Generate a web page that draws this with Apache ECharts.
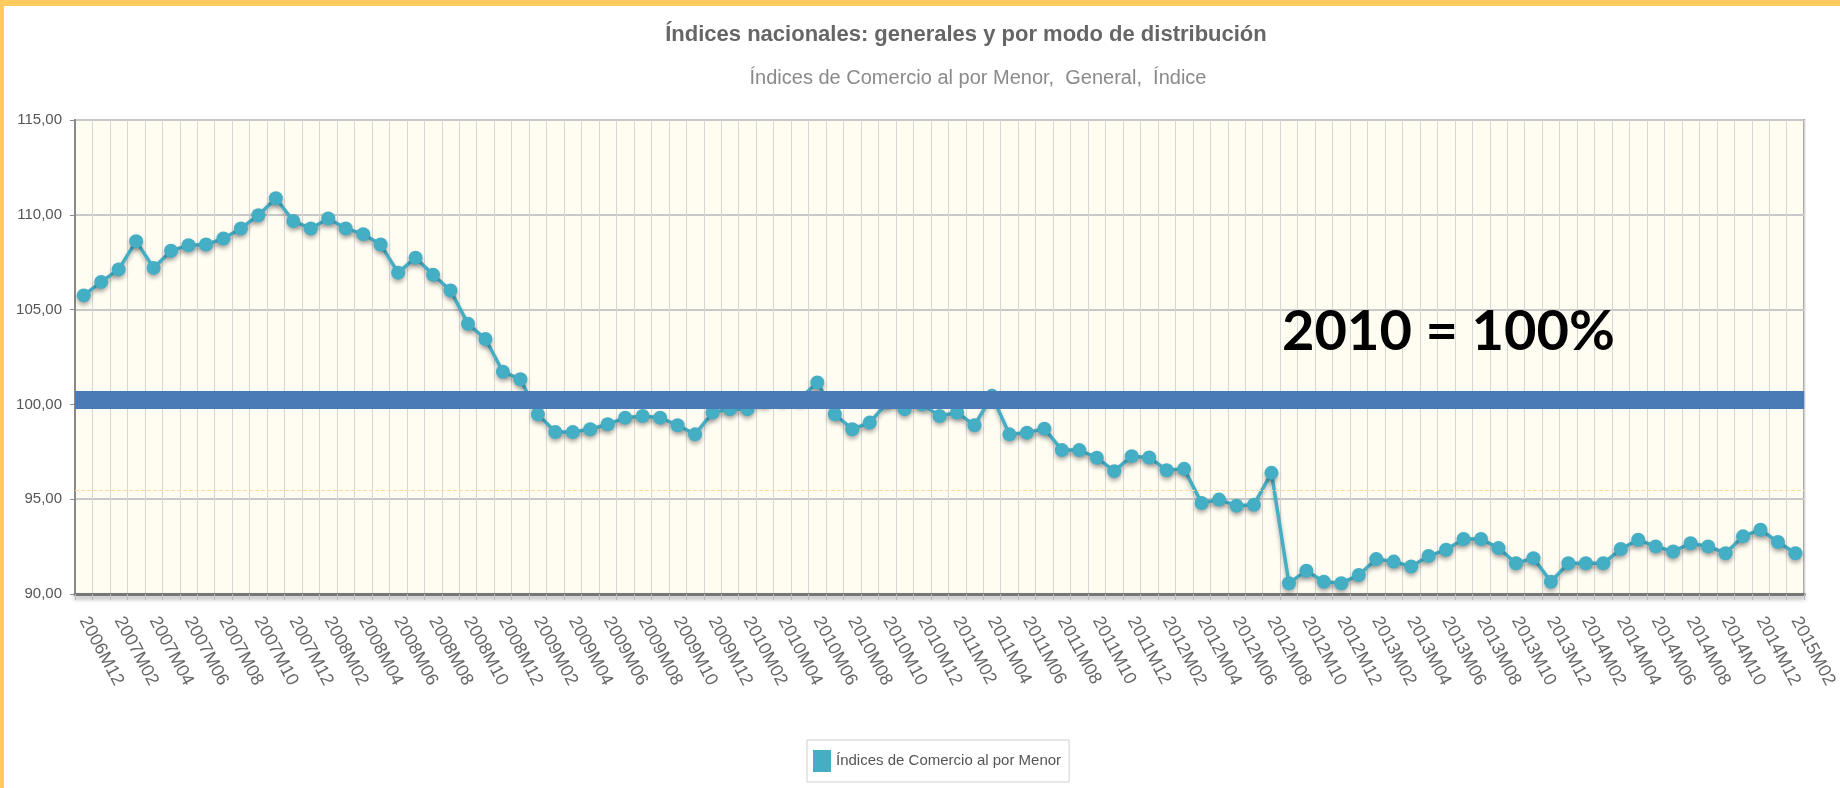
<!DOCTYPE html>
<html>
<head>
<meta charset="utf-8">
<script src="https://cdn.jsdelivr.net/npm/echarts@6/dist/echarts.min.js"></script>
<style>
  html, body { margin: 0; padding: 0; background: #fff; }
  #wrap { position: relative; width: 1840px; height: 788px; overflow: hidden; }
  #chart { width: 1840px; height: 788px; }
  .edge { position: absolute; background: #FFCB5E; }
</style>
</head>
<body>
<div id="wrap">
  <div id="chart"></div>
  <div class="edge" style="left:0;top:0;width:1840px;height:6px;"></div>
  <div class="edge" style="left:0;top:0;width:4px;height:788px;"></div>
</div>
<script>
// months 2006M12 .. 2015M02
const months = [
  '2006M12',
  '2007M01', '2007M02', '2007M03', '2007M04', '2007M05', '2007M06', '2007M07', '2007M08', '2007M09', '2007M10', '2007M11', '2007M12',
  '2008M01', '2008M02', '2008M03', '2008M04', '2008M05', '2008M06', '2008M07', '2008M08', '2008M09', '2008M10', '2008M11', '2008M12',
  '2009M01', '2009M02', '2009M03', '2009M04', '2009M05', '2009M06', '2009M07', '2009M08', '2009M09', '2009M10', '2009M11', '2009M12',
  '2010M01', '2010M02', '2010M03', '2010M04', '2010M05', '2010M06', '2010M07', '2010M08', '2010M09', '2010M10', '2010M11', '2010M12',
  '2011M01', '2011M02', '2011M03', '2011M04', '2011M05', '2011M06', '2011M07', '2011M08', '2011M09', '2011M10', '2011M11', '2011M12',
  '2012M01', '2012M02', '2012M03', '2012M04', '2012M05', '2012M06', '2012M07', '2012M08', '2012M09', '2012M10', '2012M11', '2012M12',
  '2013M01', '2013M02', '2013M03', '2013M04', '2013M05', '2013M06', '2013M07', '2013M08', '2013M09', '2013M10', '2013M11', '2013M12',
  '2014M01', '2014M02', '2014M03', '2014M04', '2014M05', '2014M06', '2014M07', '2014M08', '2014M09', '2014M10', '2014M11', '2014M12',
  '2015M01', '2015M02'
]

const indiceGeneral = [
  105.75,
  106.46, 107.12, 108.61, 107.2, 108.1, 108.4, 108.43, 108.75, 109.28, 109.98, 110.87, 109.67,
  109.28, 109.81, 109.28, 108.98, 108.43, 106.95, 107.74, 106.84, 106.01, 104.25, 103.45, 101.72,
  101.33, 99.48, 98.54, 98.54, 98.69, 98.95, 99.3, 99.39, 99.3, 98.9, 98.42, 99.57,
  99.75, 99.75, 100.2, 100.3, 100.3, 101.16, 99.48, 98.69, 99.04, 100.1, 99.75, 100.0,
  99.39, 99.57, 98.9, 100.45, 98.42, 98.51, 98.72, 97.59, 97.59, 97.19, 96.48, 97.27,
  97.2, 96.53, 96.6, 94.8, 94.98, 94.66, 94.71, 96.39, 90.57, 91.23, 90.65, 90.57,
  91.0, 91.84, 91.71, 91.45, 92.01, 92.33, 92.9, 92.9, 92.42, 91.62, 91.89, 90.65,
  91.62, 91.62, 91.62, 92.37, 92.86, 92.51, 92.24, 92.68, 92.51, 92.15, 93.04, 93.39,
  92.74, 92.15
]

const baseLevel = 100.27   // "2010 = 100%" band
const guideLevel = 95.46   // faint orange guide

const seriesName = 'Índices de Comercio al por Menor'
const teal = '#44AEC5'

const myChart = echarts.init(document.getElementById('chart'))

const option = {
  backgroundColor: '#fff',
  animation: false,
  title: [
    {
      text: 'Índices nacionales: generales y por modo de distribución',
      left: 961,
      top: 19,
      textAlign: 'center',
      textStyle: { fontFamily: 'Liberation Sans', fontSize: 22, fontWeight: 'bold', color: '#666' },
    },
    {
      text: 'Índices de Comercio al por Menor,  General,  Índice',
      left: 973,
      top: 63,
      textAlign: 'center',
      textStyle: { fontFamily: 'Liberation Sans', fontSize: 20, fontWeight: 'normal', color: '#8a8a8a' },
    },
  ],
  legend: {
    data: [seriesName],
    left: 807,
    top: 740,
    icon: 'rect',
    itemWidth: 18,
    itemHeight: 22,
    itemGap: 6,
    padding: [10, 8, 10, 6],
    borderColor: '#cfcfcf',
    borderWidth: 1,
    textStyle: { fontFamily: 'Liberation Sans', fontSize: 15, color: '#555' },
  },
  grid: {
    left: 75,
    right: 27,
    top: 120,
    bottom: 194,
    show: true,
    backgroundColor: '#FFFCF2',
    borderColor: '#999',
    borderWidth: 2,
  },
  xAxis: {
    type: 'category',
    data: months,
    boundaryGap: true,
    axisLine: {
      lineStyle: { color: '#777', width: 3, shadowColor: 'rgba(0,0,0,0.35)', shadowBlur: 4, shadowOffsetY: 3 },
    },
    axisTick: { show: true, interval: 0, length: 6, lineStyle: { color: '#bbb' } },
    axisLabel: {
      interval: 1,
      rotate: -62,
      margin: 24,
      fontFamily: 'Liberation Sans',
      fontSize: 18,
      color: '#666',
    },
    splitLine: { show: true, interval: 0, lineStyle: { color: '#d6d6d6', width: 1 } },
  },
  yAxis: {
    type: 'value',
    min: 90,
    max: 115,
    interval: 5,
    axisLine: { show: true, lineStyle: { color: '#888', width: 2 } },
    axisTick: { show: true, length: 5, lineStyle: { color: '#888' } },
    axisLabel: {
      margin: 13,
      fontFamily: 'Liberation Sans',
      fontSize: 15,
      color: '#555',
      formatter: (v) => v.toFixed(2).replace('.', ','),
    },
    splitLine: { lineStyle: { color: '#c8c8c8', width: 2 } },
  },
  graphic: [
    {
      type: 'text',
      left: 1282,
      top: 304,
      z: 100,
      style: {
        text: '2010 = 100%',
        fontFamily: 'Lato',
        fontWeight: 'bold',
        fontSize: 56,
        fill: '#000',
      },
    },
  ],
  series: [
    {
      name: seriesName,
      type: 'line',
      data: indiceGeneral,
      symbol: 'circle',
      symbolSize: 14,
      showAllSymbol: true,
      color: teal,
      lineStyle: { color: teal, width: 3.5, shadowColor: 'rgba(0,0,0,0.3)', shadowBlur: 4, shadowOffsetY: 3 },
      itemStyle: { color: teal, shadowColor: 'rgba(0,0,0,0.3)', shadowBlur: 4, shadowOffsetY: 3 },
      markLine: {
        silent: true,
        symbol: 'none',
        label: { show: false },
        lineStyle: { color: '#FFD9A0', width: 1, type: 'dashed' },
        data: [{ yAxis: guideLevel }],
      },
    },
    {
      name: 'base',
      type: 'line',
      data: [],
      z: 10,
      markLine: {
        silent: true,
        symbol: 'none',
        label: { show: false },
        lineStyle: { color: '#4A7BB7', width: 18, type: 'solid' },
        data: [{ yAxis: baseLevel }],
      },
    },
  ],
}

myChart.setOption(option, true)
</script>
</body>
</html>
